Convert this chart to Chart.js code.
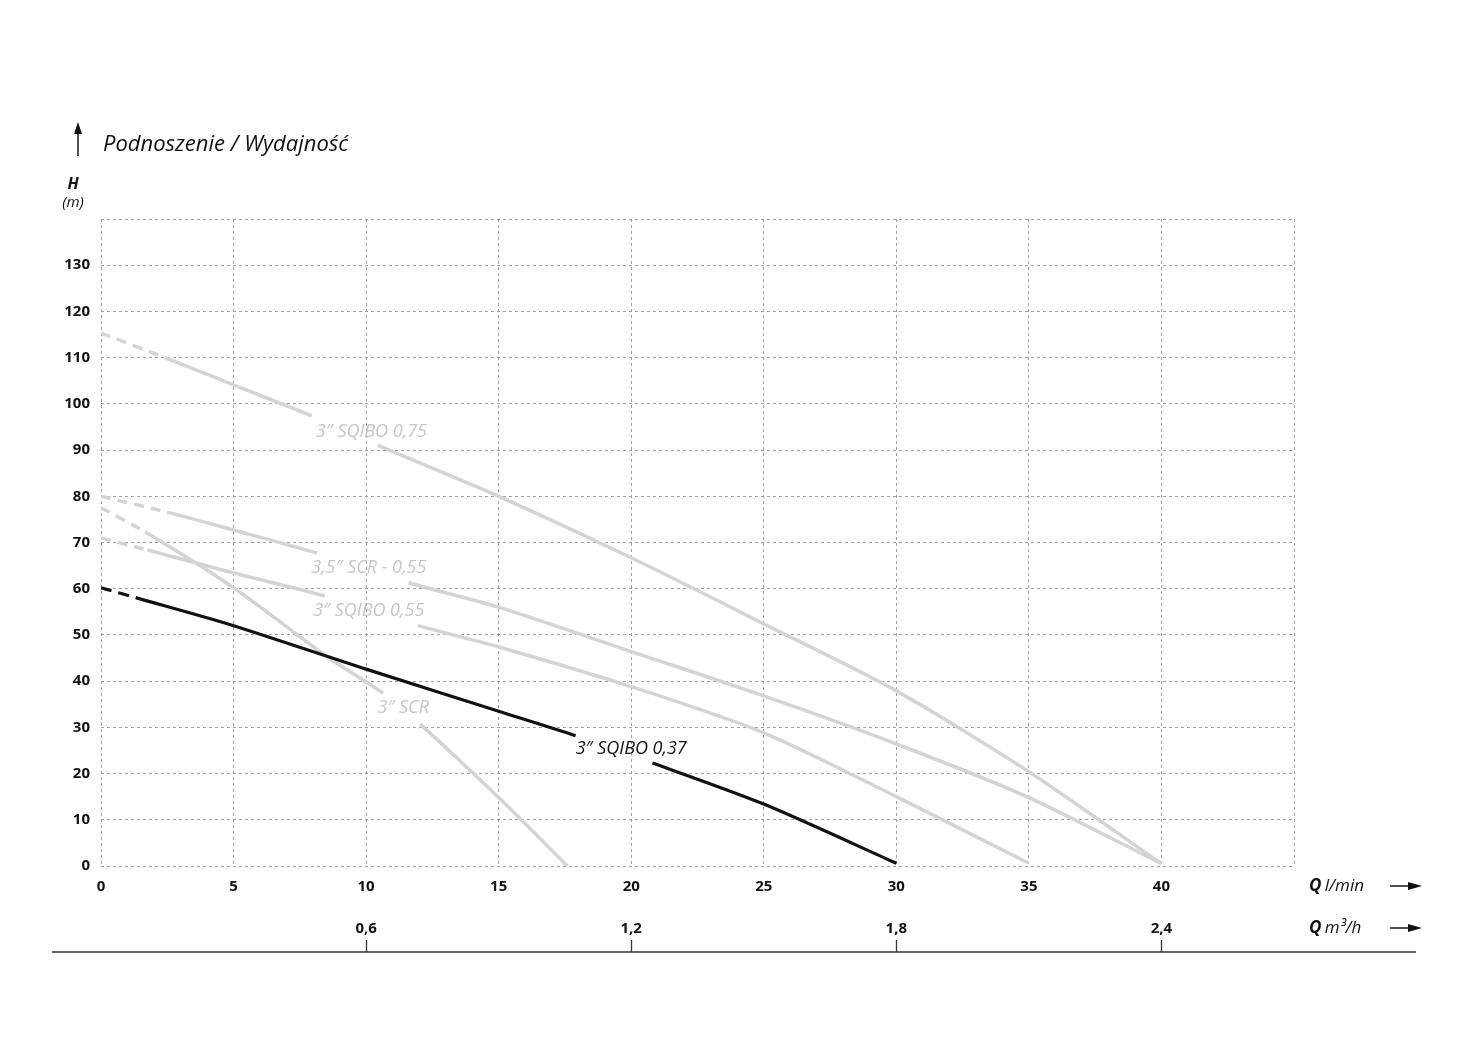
<!DOCTYPE html>
<html>
<head>
<meta charset="utf-8">
<script src="https://cdn.jsdelivr.net/npm/chart.js@4"></script>
<style>
  html, body { margin: 0; padding: 0; background: #fff; }
  #wrap { width: 1458px; height: 1042px; }
</style>
</head>
<body>
<div id="wrap"><canvas id="pumpChart" width="1458" height="1042"></canvas></div>
<script>
// Q (l/min) ticks, H (m) ticks, Q (m3/h) ticks
const flowTicks = [0, 5, 10, 15, 20, 25, 30, 35, 40, 45];
const headTicks = [0, 10, 20, 30, 40, 50, 60, 70, 80, 90, 100, 110, 120, 130, 140];
const m3hTicks = [0.6, 1.2, 1.8, 2.4];

// curves: [Q l/min, H m]
const sqibo075 = [[0, 115.3], [2.5, 109.8], [5, 104.1], [7.95, 97.4], [10.45, 91], [15, 80], [20, 66.7], [25, 52.4], [30, 37.9], [35, 20.4], [40, 0.5]];
const scr355 = [[0, 80], [2.68, 76.3], [5, 72.7], [8.15, 67.7], [11.6, 61.3], [15, 56], [20, 46.4], [25, 36.8], [30, 26.4], [35, 14.8], [40, 0.5]];
const sqibo055 = [[0, 71], [1.74, 68.4], [5, 63.4], [8.45, 58.4], [11.96, 52], [15, 47.4], [20, 38.8], [25, 28.8], [30, 15], [35, 0.6]];
const scr3 = [[0, 77.5], [1.66, 72.3], [5, 60.2], [8.6, 45], [10.64, 37.4], [12.04, 30.7], [15, 14.8], [17.6, 0]];
const sqibo037 = [[0, 60.2], [1.47, 57.8], [5, 52], [10, 42.6], [15, 33.5], [17.9, 28.2], [20.8, 22.3], [25, 13.4], [30, 0.6]];

const curveNames = ['3″ SQIBO 0,75', '3,5″ SCR - 0,55', '3″ SQIBO 0,55', '3″ SCR', '3″ SQIBO 0,37'];
const curveData = [sqibo075, scr355, sqibo055, scr3, sqibo037];
// index of the point where the gap for the label starts
const gapStarts = [3, 3, 3, 4, 5];

const GREY = '#d4d4d4';
const labelPos = [[10.2, 93.9], [10.1, 64.5], [10.1, 55.2], [11.4, 34.2], [20.0, 25.3]];

function makeDataset(i) {
    const black = i === 4;
    return {
        label: curveNames[i],
        data: curveData[i].map(p => ({ x: p[0], y: p[1] })),
        borderColor: black ? '#111' : GREY,
        borderWidth: black ? 3.2 : 3.5,
        pointRadius: 0,
        tension: 0.25,
        borderCapStyle: 'butt',
        order: black ? 0 : 1,
        segment: {
            borderDash: ctx => ctx.p0DataIndex === 0 ? (black ? [11, 7] : [10, 7]) : undefined,
            borderColor: ctx => ctx.p0DataIndex === gapStarts[i] ? 'rgba(0,0,0,0)' : undefined
        }
    };
}

const extras = {
    id: 'extras',
    afterDatasetsDraw(chart) {
        const c = chart.ctx;
        const xs = chart.scales.x, ys = chart.scales.y, x2 = chart.scales.x2;
        c.save();
        c.setLineDash([]);
        // curve labels
        c.textAlign = 'center';
        c.textBaseline = 'middle';
        c.font = 'italic 18px "Open Sans"';
        curveNames.forEach((name, i) => {
            c.fillStyle = i === 4 ? '#111' : '#c6c6c6';
            c.fillText(name, xs.getPixelForValue(labelPos[i][0]), ys.getPixelForValue(labelPos[i][1]));
        });

        // title and arrow
        c.fillStyle = '#111';
        c.textAlign = 'left';
        c.font = 'italic 22px "Open Sans"';
        c.fillText('Podnoszenie / Wydajność', 103, 145);
        c.strokeStyle = '#222';
        c.lineWidth = 1.6;
        c.beginPath(); c.moveTo(78, 156); c.lineTo(78, 132); c.stroke();
        c.beginPath(); c.moveTo(78, 122); c.lineTo(74, 134); c.lineTo(82, 134); c.closePath(); c.fill();

        // H (m)
        c.textAlign = 'center';
        c.font = 'italic bold 16px "Open Sans"';
        c.fillText('H', 73, 184);
        c.font = 'italic 15px "Open Sans"';
        c.fillText('(m)', 73, 203);

        // axis names with arrows
        function axisName(unit, y) {
            c.textAlign = 'left';
            c.font = 'italic bold 17px "Open Sans"';
            c.fillText('Q', 1309, y);
            const w = c.measureText('Q ').width;
            c.font = 'italic 17px "Open Sans"';
            c.fillText(unit, 1309 + w - 1, y);
            c.lineWidth = 1.6;
            c.beginPath(); c.moveTo(1390, y); c.lineTo(1410, y); c.stroke();
            c.beginPath(); c.moveTo(1422, y); c.lineTo(1408, y - 4); c.lineTo(1408, y + 4); c.closePath(); c.fill();
        }
        axisName('l/min', 886);
        axisName('m³/h', 928);

        // bottom rule with m3/h tick marks
        c.strokeStyle = '#666';
        c.lineWidth = 2;
        c.beginPath(); c.moveTo(52, 952); c.lineTo(1416, 952); c.stroke();
        c.strokeStyle = '#333';
        c.lineWidth = 1.3;
        m3hTicks.forEach(v => {
            const px = Math.round(x2.getPixelForValue(v)) + 0.5;
            c.beginPath(); c.moveTo(px, 940); c.lineTo(px, 952); c.stroke();
        });
        c.restore();
    }
};

const tickFont = { family: '"Open Sans"', size: 15, weight: 'bold' };

new Chart(document.getElementById('pumpChart'), {
    type: 'line',
    data: { datasets: [0, 1, 2, 3, 4].map(makeDataset) },
    options: {
        responsive: false,
        animation: false,
        layout: { padding: { left: 0, top: 219, right: 164, bottom: 90 } },
        plugins: { legend: { display: false }, tooltip: { enabled: false } },
        scales: {
            x: {
                type: 'linear',
                min: 0, max: 45,
                afterBuildTicks: s => { s.ticks = flowTicks.map(v => ({ value: v })); },
                afterFit: s => { s.height = 40; },
                grid: { color: '#a0a0a0', lineWidth: 1, drawTicks: false },
                border: { display: false, dash: [3, 3] },
                ticks: {
                    padding: 12,
                    color: '#111',
                    font: tickFont,
                    maxRotation: 0,
                    callback: v => v === 45 ? '' : String(v)
                }
            },
            x2: {
                type: 'linear',
                position: 'bottom',
                min: 0, max: 2.7,
                afterBuildTicks: s => { s.ticks = m3hTicks.map(v => ({ value: v })); },
                afterFit: s => { s.height = 46; },
                grid: { display: false, drawTicks: false },
                border: { display: false },
                ticks: {
                    padding: 14,
                    color: '#111',
                    font: tickFont,
                    maxRotation: 0,
                    callback: v => v.toFixed(1).replace('.', ',')
                }
            },
            y: {
                type: 'linear',
                min: 0, max: 140,
                afterBuildTicks: s => { s.ticks = headTicks.map(v => ({ value: v })); },
                afterFit: s => { s.width = 101; },
                grid: { color: '#a0a0a0', lineWidth: 1, drawTicks: false },
                border: { display: false, dash: [3, 3] },
                ticks: {
                    padding: 11,
                    color: '#111',
                    font: tickFont,
                    callback: v => v === 140 ? '' : String(v)
                }
            }
        }
    },
    plugins: [extras]
});
</script>
</body>
</html>
